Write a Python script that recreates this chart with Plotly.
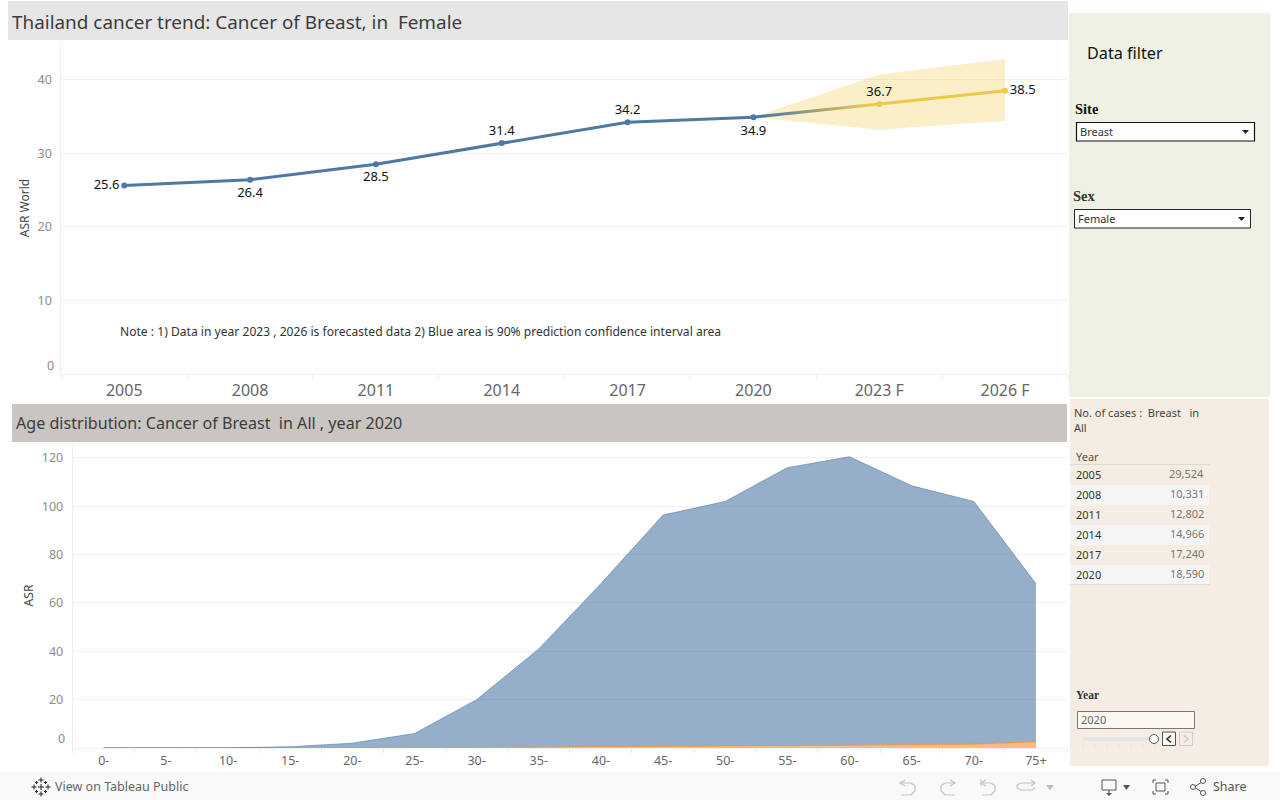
import plotly.graph_objects as go

# ---- data ----
trend_years = ["2005", "2008", "2011", "2014", "2017", "2020", "2023 F", "2026 F"]
trend_asr = [25.6, 26.4, 28.5, 31.4, 34.2, 34.9, 36.7, 38.5]
band_years = ["2020", "2023 F", "2026 F"]
band_low = [34.9, 33.2, 34.4]
band_high = [34.9, 40.7, 42.8]
age_groups = ["0-", "5-", "10-", "15-", "20-", "25-", "30-", "35-", "40-", "45-", "50-", "55-", "60-", "65-", "70-", "75+"]
age_lower = [0.0, 0.0, 0.0, 0.0, 0.0, 0.1, 0.3, 0.4, 0.5, 0.5, 0.6, 1.0, 1.2, 1.5, 1.6, 2.6]
age_upper = [0.1, 0.1, 0.1, 0.5, 2.0, 5.9, 19.7, 40.6, 67.5, 95.9, 101.4, 115.0, 119.3, 107.0, 100.4, 65.4]
table_years = ["2005", "2008", "2011", "2014", "2017", "2020"]
table_cases = ["29,524", "10,331", "12,802", "14,966", "17,240", "18,590"]

FONT = "Noto Sans"
W, H = 1280, 800
def X(p): return p / W
def Y(p): return 1 - p / H

BLUE = "#4e79a7"
YELLOW = "#edc948"
ORANGE = "#f28e2b"
GRID = "#f0f0f0"

shapes, annos = [], []
def rect(x0, y0, x1, y1, fill="rgba(0,0,0,0)", line=None, w=1, layer="below"):
    shapes.append(dict(type="rect", xref="paper", yref="paper", x0=X(x0), x1=X(x1), y0=Y(y0), y1=Y(y1),
                       fillcolor=fill, line=dict(color=line or "rgba(0,0,0,0)", width=w if line else 0), layer=layer))
def seg(pts, color, w=1, fill=None, close=False):
    d = "M" + " L".join(f"{X(a):.5f},{Y(b):.5f}" for a, b in pts) + (" Z" if close else "")
    shapes.append(dict(type="path", xref="paper", yref="paper", path=d, fillcolor=fill or "rgba(0,0,0,0)",
                       line=dict(color=color, width=w), layer="above"))
def text(x, y, s, size=12, color="#333333", anchor="left", family=FONT, angle=0):
    dx = -2 if anchor == "left" else 2
    annos.append(dict(xref="paper", yref="paper", x=X(x + dx), y=Y(y), text=s, showarrow=False, xanchor=anchor,
                      yanchor="middle", align=anchor, textangle=angle,
                      font=dict(family=family, size=size, color=color)))

# panels and bars
rect(8, 1, 1068, 40, "#e6e6e6")
rect(12, 404, 1067, 442, "#c9c5c2")
rect(1069, 13, 1270, 397, "#eef1e3")
rect(1070, 399, 1269, 766, "#f5ede3")
rect(0, 772, 1280, 800, "#f9f9f9")
text(12, 22, "Thailand cancer trend: Cancer of Breast, in  Female", 18.9, "#3c3c3c")
text(16, 423, "Age distribution: Cancer of Breast  in All , year 2020", 16.1, "#3c3c3c")
text(120, 331, "Note : 1) Data in year 2023 , 2026 is forecasted data 2) Blue area is 90% prediction confidence interval area", 12.1, "#333333")
text(54, 365, "0", 12.5, "#8c8c8c", "right")
text(65, 738, "0", 12.5, "#8c8c8c", "right")

# filter panel
text(1087, 53, "Data filter", 16.2, "#111111")
text(1075, 109, "<b>Site</b>", 14.5, "#111111", family="Liberation Serif")
rect(1076.5, 122.5, 1254.5, 141, "#ffffff", "#111111", 1.2, "above")
text(1080, 131.5, "Breast", 11, "#333333")
seg([(1242, 130), (1249, 130), (1245.5, 134)], "#222222", 0, "#222222", True)
text(1073, 196, "<b>Sex</b>", 14.5, "#333333", family="Liberation Serif")
rect(1074.5, 209.5, 1250.5, 228, "#ffffff", "#222222", 1, "above")
text(1078, 218.5, "Female", 11, "#333333")
seg([(1238, 217), (1245, 217), (1241.5, 221)], "#222222", 0, "#222222", True)

# table
text(1074, 412.5, "No. of cases :  Breast   in", 11, "#444444")
text(1074, 427.5, "All", 11, "#444444")
text(1076, 456.5, "Year", 11, "#555555")
for i, (yr, n) in enumerate(zip(table_years, table_cases)):
    cy = 475 + 20 * i
    if i % 2 == 1:
        rect(1070, cy - 10, 1209, cy + 10, "#f5f5f5")
    text(1076, cy - 0.7, yr, 11, "#333333")
    text(1204, cy - 1.7, n, 11, "#777777", "right")
rect(1070, 464, 1210, 464.6, "#c8c8c8")
rect(1070, 584, 1210, 584.6, "#c8c8c8")

# year slider
text(1076, 695, "<b>Year</b>", 11.5, "#333333", family="Liberation Serif")
rect(1077.5, 711.5, 1194.5, 728.5, "#fbf7f1", "#777777", 1, "above")
text(1081, 719.5, "2020", 11, "#666666")
rect(1083, 737, 1155, 741, "#e6e6e6", layer="above")
for k in range(7):
    seg([(1083 + 12 * k, 745), (1083 + 12 * k, 747)], "#dddddd", 1)
shapes.append(dict(type="circle", xref="paper", yref="paper", x0=X(1149.5), x1=X(1158.5), y0=Y(743.5), y1=Y(734.5),
                   fillcolor="#ffffff", line=dict(color="#555555", width=1), layer="above"))
rect(1162.5, 732, 1175.5, 745.5, "#fbf7f1", "#555555", 1, "above")
seg([(1171, 735.5), (1167, 739), (1171, 742.5)], "#333333", 1.6)
rect(1179.5, 732, 1192.5, 745.5, "#f5ede3", "#cccccc", 1, "above")
seg([(1184, 735.5), (1188, 739), (1184, 742.5)], "#cccccc", 1.6)

# toolbar
text(55, 786.5, "View on Tableau Public", 12.5, "#666666")
for cx, cy, r in [(41, 787, 3.0), (41, 780, 2.5), (41, 794, 2.5), (34, 787, 2.5), (48, 787, 2.5),
                  (36.5, 782.5, 1.5), (45.5, 782.5, 1.5), (36.5, 791.5, 1.5), (45.5, 791.5, 1.5)]:
    seg([(cx - r, cy), (cx + r, cy)], "#333333", 1.1)
    seg([(cx, cy - r), (cx, cy + r)], "#333333", 1.1)
ICON = "#c4c4c4"
seg([(905, 780), (900, 783), (905, 786)], ICON, 1.2)
seg([(900, 783), (911, 783), (915, 786), (915, 791), (911, 795), (901, 795)], ICON, 1.2)
seg([(950, 780), (955, 783), (950, 786)], ICON, 1.2)
seg([(955, 783), (945, 783), (941, 786), (941, 791), (945, 795), (955, 795)], ICON, 1.2)
seg([(986, 780), (981, 783), (986, 786)], ICON, 1.2)
seg([(981, 779), (981, 786)], ICON, 1.2)
seg([(981, 783), (991, 783), (995, 786), (995, 791), (991, 795), (982, 795)], ICON, 1.2)
seg([(1031, 780), (1035, 783), (1031, 786)], ICON, 1.2)
seg([(1035, 783), (1021, 783), (1017, 785), (1017, 788), (1021, 790), (1032, 790), (1035, 788)], ICON, 1.2)
seg([(1046, 785), (1054, 785), (1050, 790)], "#bbbbbb", 0, "#bbbbbb", True)
GRAY = "#555555"
seg([(1102, 780), (1116, 780), (1116, 790), (1102, 790), (1102, 780)], GRAY, 1)
seg([(1109, 790), (1109, 795)], GRAY, 1.2)
seg([(1106, 793), (1112, 793), (1109, 796)], GRAY, 0, GRAY, True)
seg([(1123, 785), (1130, 785), (1126.5, 790)], GRAY, 0, GRAY, True)
seg([(1153, 783), (1153, 780), (1156, 780)], GRAY, 1)
seg([(1165, 780), (1168, 780), (1168, 783)], GRAY, 1)
seg([(1153, 791), (1153, 794), (1156, 794)], GRAY, 1)
seg([(1165, 794), (1168, 794), (1168, 791)], GRAY, 1)
rect(1156, 783, 1165, 791, "rgba(0,0,0,0)", GRAY, 1, "above")
seg([(1194, 787), (1202, 782)], GRAY, 1)
seg([(1194, 787), (1202, 792)], GRAY, 1)
for cx, cy in [(1193, 787), (1203, 781), (1203, 793)]:
    shapes.append(dict(type="circle", xref="paper", yref="paper", x0=X(cx - 2.5), x1=X(cx + 2.5), y0=Y(cy + 2.5), y1=Y(cy - 2.5),
                       fillcolor="#f9f9f9", line=dict(color=GRAY, width=1), layer="above"))
text(1213, 786.5, "Share", 12.5, "#555555")

# ---- traces ----
fig = go.Figure()
fig.add_trace(go.Scatter(x=band_years, y=band_low, mode="lines", line=dict(width=0), showlegend=False, hoverinfo="skip"))
fig.add_trace(go.Scatter(x=band_years, y=band_high, mode="lines", line=dict(width=0), fill="tonexty",
                         fillcolor="rgba(237,201,72,0.3)", showlegend=False, hoverinfo="skip"))
fig.add_trace(go.Scatter(x=trend_years[5:7], y=trend_asr[5:7], mode="lines", line=dict(color="rgb(123,124,125)", width=3),
                         showlegend=False))
fig.add_trace(go.Scatter(x=trend_years[:6], y=trend_asr[:6], mode="lines+markers",
                         line=dict(color=BLUE, width=3), marker=dict(color=BLUE, size=6), showlegend=False))
fig.add_trace(go.Scatter(x=trend_years[6:], y=trend_asr[6:], mode="lines+markers",
                         line=dict(color=YELLOW, width=3), marker=dict(color=YELLOW, size=6), showlegend=False))
fig.add_trace(go.Scatter(x=trend_years, y=trend_asr, mode="markers+text",
                         marker=dict(size=[6, 11, 9, 6, 6, 11, 6, 6], opacity=0),
                         text=[f"{v:.1f}" for v in trend_asr],
                         textposition=["middle left", "bottom center", "bottom center", "top center", "top center",
                                       "bottom center", "top center", "middle right"],
                         textfont=dict(family=FONT, size=13, color="#111111"), showlegend=False, hoverinfo="skip"))
fig.add_trace(go.Scatter(x=age_groups, y=age_lower, mode="lines", stackgroup="a", xaxis="x2", yaxis="y2",
                         line=dict(color="rgba(242,142,43,0.75)", width=1), fillcolor="rgba(242,142,43,0.6)", showlegend=False))
fig.add_trace(go.Scatter(x=age_groups, y=age_upper, mode="lines", stackgroup="a", xaxis="x2", yaxis="y2",
                         line=dict(color="rgba(78,121,167,0.6)", width=1), fillcolor="rgba(78,121,167,0.6)", showlegend=False))

axis_common = dict(showgrid=False, zeroline=False, showline=True, linecolor=GRID, linewidth=1,
                   ticks="outside", ticklen=4, tickcolor="#e8e8e8", tickson="boundaries", type="category",
                   fixedrange=True, ticklabelstandoff=2)
yaxis_common = dict(showgrid=True, gridcolor=GRID, zeroline=False, showline=True, linecolor=GRID, linewidth=1,
                    ticks="outside", ticklen=6, tickcolor="rgba(0,0,0,0)", fixedrange=True,
                    tickfont=dict(family=FONT, size=12.5, color="#8c8c8c"))
fig.update_layout(
    width=W, height=H, autosize=False, margin=dict(l=0, r=0, t=0, b=0),
    paper_bgcolor="#ffffff", plot_bgcolor="#ffffff", showlegend=False, shapes=shapes, annotations=annos,
    font=dict(family=FONT),
    xaxis=dict(axis_common, domain=[X(61.3), X(1068)], anchor="y", range=[-0.5, 7.5],
               categoryorder="array", categoryarray=trend_years,
               tickfont=dict(family=FONT, size=16, color="#666666")),
    yaxis=dict(yaxis_common, domain=[Y(374), Y(42)], anchor="x", range=[0, (374 - 42) / 7.36],
               tickvals=[10, 20, 30, 40],
               title=dict(text="ASR World", standoff=5, font=dict(family=FONT, size=12, color="#444444"))),
    xaxis2=dict(axis_common, domain=[X(72.7), X(1067)], anchor="y2", range=[-0.5, 15.5],
                categoryorder="array", categoryarray=age_groups,
                tickfont=dict(family=FONT, size=12.5, color="#666666"), ticklabelstandoff=1),
    yaxis2=dict(yaxis_common, domain=[Y(748), Y(443)], anchor="x2", range=[0, (748 - 443) / 2.417],
                tickvals=[20, 40, 60, 80, 100, 120],
                title=dict(text="ASR", standoff=5, font=dict(family=FONT, size=12, color="#444444"))),
)

post = """
document.body.style.margin='0';
var svg=document.querySelector('.main-svg');
var ns='http://www.w3.org/2000/svg';
var g=document.createElementNS(ns,'linearGradient');g.setAttribute('id','fadeLine');
[['0','#4e79a7'],['0.1','#4e79a7'],['0.9','#edc948'],['1','#edc948']].forEach(function(s){
 var t=document.createElementNS(ns,'stop');t.setAttribute('offset',s[0]);t.setAttribute('stop-color',s[1]);g.appendChild(t);});
var d=svg.querySelector('defs')||svg.appendChild(document.createElementNS(ns,'defs'));d.appendChild(g);
document.querySelectorAll('path.js-line').forEach(function(p){
 if(p.style.stroke.replace(/ /g,'')==='rgb(123,124,125)'){p.style.stroke='url(#fadeLine)';}});
"""
fig.write_html("out.html", post_script=post, config=dict(displayModeBar=False))
